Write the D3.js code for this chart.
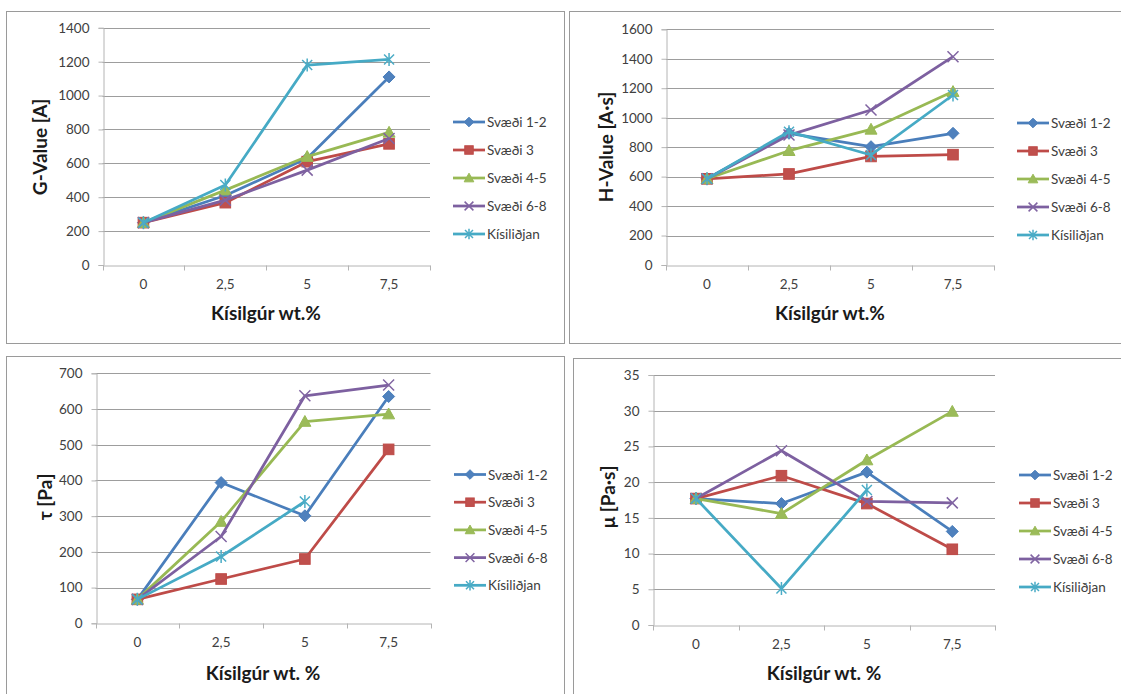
<!DOCTYPE html>
<html>
<head>
<meta charset="utf-8">
<script src="https://cdn.jsdelivr.net/npm/d3@7"></script>
<style>
  html, body { margin: 0; padding: 0; background: #fff; }
  svg { display: block; }
  text { font-family: Lato, "Open Sans", "DejaVu Sans", sans-serif; }
</style>
</head>
<body>
<svg id="chart" width="1121" height="694"></svg>
<script>
// Categories (Kísilgúr wt.%) and series names
const categories = ["0", "2,5", "5", "7,5"];
const seriesNames = ["Svæði 1-2", "Svæði 3", "Svæði 4-5", "Svæði 6-8", "Kísiliðjan"];

// G-Value [A]
const gSvaedi12 = [250, 410, 630, 1110];
const gSvaedi3  = [250, 368, 610, 715];
const gSvaedi45 = [250, 442, 640, 783];
const gSvaedi68 = [250, 383, 560, 747];
const gKisilidjan = [250, 472, 1180, 1213];

// H-Value [A·s]
const hSvaedi12 = [585, 894, 803, 894];
const hSvaedi3  = [585, 618, 737, 749];
const hSvaedi45 = [585, 776, 921, 1177];
const hSvaedi68 = [585, 882, 1052, 1414];
const hKisilidjan = [585, 905, 747, 1154];

// τ [Pa]
const tauSvaedi12 = [67, 394, 301, 635];
const tauSvaedi3  = [67, 124, 180, 487];
const tauSvaedi45 = [67, 285, 565, 586];
const tauSvaedi68 = [67, 243, 637, 667];
const tauKisilidjan = [67, 187, 341, null];

// μ [Pa·s]
const muSvaedi12 = [17.7, 17.0, 21.4, 13.1];
const muSvaedi3  = [17.7, 20.9, 17.0, 10.6];
const muSvaedi45 = [17.7, 15.6, 23.1, 29.9];
const muSvaedi68 = [17.7, 24.4, 17.3, 17.1];
const muKisilidjan = [17.7, 5.1, 18.9, null];

// Y-axis tick values per chart
const gTicks = [0, 200, 400, 600, 800, 1000, 1200, 1400];
const hTicks = [0, 200, 400, 600, 800, 1000, 1200, 1400, 1600];
const tauTicks = [0, 100, 200, 300, 400, 500, 600, 700];
const muTicks = [0, 5, 10, 15, 20, 25, 30, 35];

// Series styling (line colour, marker fill, marker type)
const lineColors = ["#4A7EBB", "#BE4B48", "#98B954", "#7D60A0", "#46AAC5"];
const markerFills = ["#4F81BD", "#C0504D", "#9BBB59", "#8064A2", "#4BACC6"];
const markerTypes = ["diamond", "square", "triangle", "cross", "star"];

const svg = d3.select("#chart");

const panels = [
  {
    frame: [6, 11, 564, 343],
    plot: { x0: 102.5, x1: 430, yTop: 27.8, yBot: 265 },
    ticks: gTicks,
    series: [gSvaedi12, gSvaedi3, gSvaedi45, gSvaedi68, gKisilidjan],
    yTitle: "G-Value [A]", yTitlePos: [39, 147],
    xTitle: "Kísilgúr wt.%", xTitlePos: [266, 320],
    legend: { x: 453, y: 122, dy: 28 }
  },
  {
    frame: [569, 11, 1125, 343],
    plot: { x0: 666, x1: 994, yTop: 29.3, yBot: 265 },
    ticks: hTicks,
    series: [hSvaedi12, hSvaedi3, hSvaedi45, hSvaedi68, hKisilidjan],
    yTitle: "H-Value [A·s]", yTitlePos: [605, 147],
    xTitle: "Kísilgúr wt.%", xTitlePos: [830, 320],
    legend: { x: 1017, y: 123, dy: 28 }
  },
  {
    frame: [6, 356, 564, 700],
    plot: { x0: 95.5, x1: 430.5, yTop: 373.3, yBot: 623.3 },
    ticks: tauTicks,
    series: [tauSvaedi12, tauSvaedi3, tauSvaedi45, tauSvaedi68, tauKisilidjan],
    yTitle: "τ [Pa]", yTitlePos: [44, 497],
    xTitle: "Kísilgúr wt. %", xTitlePos: [263, 680],
    legend: { x: 454, y: 474.5, dy: 27.7 }
  },
  {
    frame: [573, 358, 1125, 700],
    plot: { x0: 653.3, x1: 995, yTop: 375, yBot: 625 },
    ticks: muTicks,
    series: [muSvaedi12, muSvaedi3, muSvaedi45, muSvaedi68, muKisilidjan],
    yTitle: "μ [Pa·s]", yTitlePos: [607, 497],
    xTitle: "Kísilgúr wt. %", xTitlePos: [824, 680],
    legend: { x: 1019, y: 475, dy: 28 }
  }
];

function drawMarker(g, type, cx, cy, i, scale) {
  const s = scale || 1;
  const stroke = lineColors[i], fill = markerFills[i];
  if (type === "diamond") {
    const r = 6 * s;
    g.append("path")
      .attr("d", `M${cx},${cy - r}L${cx + r},${cy}L${cx},${cy + r}L${cx - r},${cy}Z`)
      .attr("fill", fill).attr("stroke", stroke).attr("stroke-width", 1);
  } else if (type === "square") {
    const r = 5.3 * s;
    g.append("rect")
      .attr("x", cx - r).attr("y", cy - r).attr("width", 2 * r).attr("height", 2 * r)
      .attr("fill", fill).attr("stroke", stroke).attr("stroke-width", 1);
  } else if (type === "triangle") {
    const r = 6 * s;
    g.append("path")
      .attr("d", `M${cx},${cy - r}L${cx + r},${cy + r * 0.8}L${cx - r},${cy + r * 0.8}Z`)
      .attr("fill", fill).attr("stroke", stroke).attr("stroke-width", 1);
  } else if (type === "cross") {
    const r = 5.5 * s;
    g.append("path")
      .attr("d", `M${cx - r},${cy - r}L${cx + r},${cy + r}M${cx - r},${cy + r}L${cx + r},${cy - r}`)
      .attr("fill", "none").attr("stroke", fill).attr("stroke-width", 1.5);
  } else if (type === "star") {
    const r = 5 * s;
    g.append("path")
      .attr("d", `M${cx - r},${cy - r}L${cx + r},${cy + r}M${cx - r},${cy + r}L${cx + r},${cy - r}M${cx},${cy - r * 1.3}L${cx},${cy + r * 1.3}`)
      .attr("fill", "none").attr("stroke", fill).attr("stroke-width", 1.5);
  }
}

panels.forEach(p => {
  const g = svg.append("g");
  const [fx0, fy0, fx1, fy1] = p.frame;

  // chart area border
  g.append("rect")
    .attr("x", fx0 + 0.5).attr("y", fy0 + 0.5)
    .attr("width", fx1 - fx0).attr("height", fy1 - fy0)
    .attr("fill", "#fff").attr("stroke", "#9a9a9a").attr("stroke-width", 1);

  const yMax = p.ticks[p.ticks.length - 1];
  const x = d3.scaleBand().domain(categories).range([p.plot.x0, p.plot.x1]).padding(0);
  const y = d3.scaleLinear().domain([0, yMax]).range([p.plot.yBot, p.plot.yTop]);
  const cx = c => x(c) + x.bandwidth() / 2;

  // horizontal gridlines
  g.append("g").selectAll("line")
    .data(p.ticks.filter(t => t > 0))
    .join("line")
    .attr("x1", p.plot.x0).attr("x2", p.plot.x1)
    .attr("y1", d => Math.round(y(d)) + 0.5).attr("y2", d => Math.round(y(d)) + 0.5)
    .attr("stroke", "#9d9d9d").attr("stroke-width", 1);

  // y axis
  const yAxis = g.append("g")
    .attr("transform", `translate(${Math.round(p.plot.x0) + 0.5},0)`)
    .call(d3.axisLeft(y).tickValues(p.ticks).tickSize(5).tickPadding(9).tickFormat(d3.format("d")));
  yAxis.select(".domain").attr("stroke", "#b4b4b4");
  yAxis.selectAll(".tick line").attr("stroke", "#b4b4b4");
  yAxis.selectAll(".tick text")
    .attr("fill", "#404040").style("font-size", "13.5px").style("font-family", "Lato, 'Open Sans', sans-serif");

  // x axis: labels at category centres, tick marks on category boundaries
  const xAxis = g.append("g")
    .attr("transform", `translate(0,${Math.round(p.plot.yBot) + 0.5})`)
    .call(d3.axisBottom(x).tickSize(0).tickPadding(14));
  xAxis.select(".domain").attr("stroke", "#b4b4b4");
  xAxis.selectAll(".tick text")
    .attr("fill", "#404040").style("font-size", "13.5px").style("font-family", "Lato, 'Open Sans', sans-serif");
  const edges = categories.map(c => x(c)).concat([x.range()[1]]);
  xAxis.append("g").selectAll("line")
    .data(edges)
    .join("line")
    .attr("x1", d => Math.round(d) + 0.5).attr("x2", d => Math.round(d) + 0.5)
    .attr("y1", 0).attr("y2", 5)
    .attr("stroke", "#b4b4b4");

  // series lines and markers
  const line = d3.line()
    .defined(d => d.v !== null)
    .x(d => cx(d.c))
    .y(d => y(d.v));
  p.series.forEach((vals, i) => {
    const pts = vals.map((v, k) => ({ c: categories[k], v }));
    const sg = g.append("g");
    sg.append("path")
      .datum(pts)
      .attr("d", line)
      .attr("fill", "none")
      .attr("stroke", lineColors[i])
      .attr("stroke-width", 2.75)
      .attr("stroke-linejoin", "round");
    pts.filter(d => d.v !== null).forEach(d => drawMarker(sg, markerTypes[i], cx(d.c), y(d.v), i, 1));
  });

  // axis titles
  g.append("text")
    .attr("x", p.xTitlePos[0]).attr("y", p.xTitlePos[1])
    .attr("text-anchor", "middle")
    .style("font-size", "19px").style("font-weight", "bold")
    .attr("fill", "#1a1a1a")
    .text(p.xTitle);
  g.append("text")
    .attr("transform", `translate(${p.yTitlePos[0]},${p.yTitlePos[1]}) rotate(-90)`)
    .attr("text-anchor", "middle")
    .attr("dominant-baseline", "central")
    .style("font-size", "19px").style("font-weight", "bold")
    .attr("fill", "#1a1a1a")
    .text(p.yTitle);

  // legend
  const lg = g.append("g");
  seriesNames.forEach((name, i) => {
    const ly = p.legend.y + i * p.legend.dy;
    lg.append("line")
      .attr("x1", p.legend.x).attr("x2", p.legend.x + 32)
      .attr("y1", ly).attr("y2", ly)
      .attr("stroke", lineColors[i]).attr("stroke-width", 2.75);
    drawMarker(lg, markerTypes[i], p.legend.x + 16, ly, i, 0.8);
    lg.append("text")
      .attr("x", p.legend.x + 34).attr("y", ly)
      .attr("dominant-baseline", "central")
      .style("font-size", "13.5px")
      .attr("fill", "#404040")
      .text(name);
  });
});
</script>
</body>
</html>
